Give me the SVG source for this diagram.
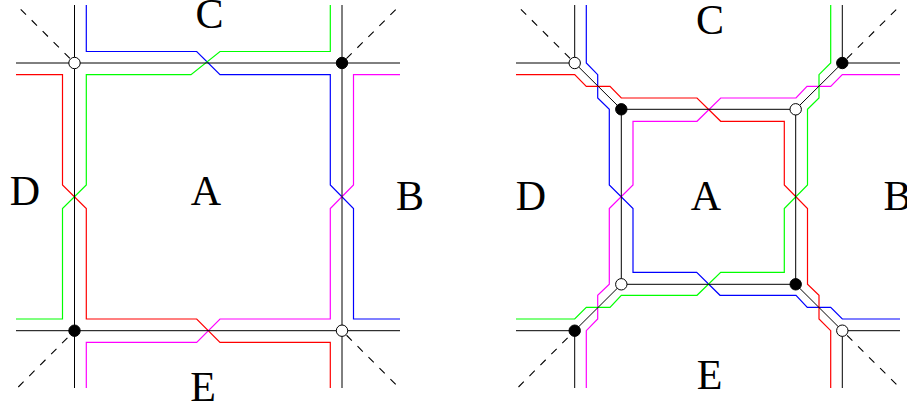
<svg xmlns="http://www.w3.org/2000/svg" width="907" height="410" viewBox="0 0 907 410">
<style>
.k{fill:none;stroke:#000;stroke-width:1}
.d{fill:none;stroke:#000;stroke-width:1.1;stroke-dasharray:7.5 8}
.r{fill:none;stroke:#f00;stroke-width:1.2}
.g{fill:none;stroke:#0f0;stroke-width:1.2}
.b{fill:none;stroke:#00f;stroke-width:1.2}
.m{fill:none;stroke:#f0f;stroke-width:1.2}
.w{fill:#fff;stroke:#000;stroke-width:1}
.f{fill:#000;stroke:#000;stroke-width:1}
text{font-family:"Liberation Serif","Times New Roman",serif;font-size:42px;fill:#000;text-anchor:middle}
</style>
<g id="connectors">
<path class="b" d="M86.3 5V51.5H196.7L220 74.7H330.3V185L353.5 208.5V319H400"/>
<path class="g" d="M330.3 5V51.5H220L191 74.7H86.3V185L62.5 208.5V319H16"/>
<path class="r" d="M16 74.7H62.5V185L86.3 208.5V319H196.7L220 342.4H330.3V388"/>
<path class="m" d="M400 74.7H353.5V185L330.3 208.5V319H220L196.7 342.4H86.3V388"/>
<path class="k" d="M74.5 5V388M342 5V388M16 63H400M16 330.7H400"/>
<path class="d" d="M20.7 9.3L74.5 63M395.7 9.7L342 63M18.3 387L74.5 330.7M395.7 384.4L342 330.7"/>
<path class="b" d="M586.3 5V63L597.7 74.7V98L609.3 109.3V185L633 208.5V272.3H696.7L720 295.3H796L807.3 307.3H830.7L842.3 319H900"/>
<path class="r" d="M516 74.7H574.7L586.3 86.3H610L621.3 98H697L720.7 121.3H784.3V185L807.5 208.5V284.3L819 295.3V319L830.7 330.7V388"/>
<path class="m" d="M900 74.7H842.3L830.7 86.3H807L796 98H720.7L697 121.3H633V185L609.3 208.5V284.3L597.7 295.3V319L586.3 330.7V388"/>
<path class="g" d="M830.7 5V63L819 74.7V98L807.5 109.3V185L784.3 208.5V272.3H720.7L697 295.3H621.3L610 307.3H586.3L574.7 319H516"/>
<path class="k" d="M574.7 5V63H516M842.3 5V63H900M574.7 388V330.7H516M842.3 388V330.7H900M621.3 109.3H795.7V284.3H621.3ZM574.7 63L621.3 109.3M842.3 63L795.7 109.3M574.7 330.7L621.3 284.3M842.3 330.7L795.7 284.3"/>
<path class="d" d="M520.9 9.3L574.7 63M896.2 9.7L842.3 63M518.5 387L574.7 330.7M896.4 384.4L842.3 330.7"/>
</g>
<g id="n1"><circle class="w" cx="74.5" cy="63" r="5.7"/></g>
<g id="n2"><circle class="f" cx="342" cy="63" r="5.7"/></g>
<g id="n3"><circle class="f" cx="74.5" cy="330.7" r="5.7"/></g>
<g id="n4"><circle class="w" cx="342" cy="330.7" r="5.7"/></g>
<g id="n5"><circle class="w" cx="574.7" cy="63" r="5.7"/></g>
<g id="n6"><circle class="f" cx="842.3" cy="63" r="5.7"/></g>
<g id="n7"><circle class="f" cx="574.7" cy="330.7" r="5.7"/></g>
<g id="n8"><circle class="w" cx="842.3" cy="330.7" r="5.7"/></g>
<g id="n9"><circle class="f" cx="621.3" cy="109.3" r="5.7"/></g>
<g id="n10"><circle class="w" cx="795.7" cy="109.3" r="5.7"/></g>
<g id="n11"><circle class="w" cx="621.3" cy="284.3" r="5.7"/></g>
<g id="n12"><circle class="f" cx="795.7" cy="284.3" r="5.7"/></g>
<g id="labels">
<text x="209.5" y="28">C</text><text x="25" y="204.5">D</text><text x="206" y="204.5">A</text><text x="410" y="209.5">B</text><text x="203" y="401">E</text>
<text x="710" y="33.5">C</text><text x="531" y="209.5">D</text><text x="706" y="209.5">A</text><text x="897.5" y="209.5">B</text><text x="709.5" y="388.5">E</text>
</g>
</svg>
